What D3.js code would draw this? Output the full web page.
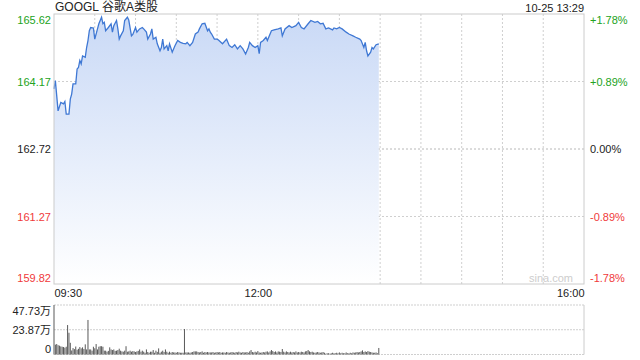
<!DOCTYPE html>
<html>
<head>
<meta charset="utf-8">
<script src="https://cdn.jsdelivr.net/npm/d3@7"></script>
<style>
body{margin:0;background:#fff}
svg text{font-family:"Liberation Sans",Arial,"Noto Sans CJK SC",sans-serif;font-size:11px}
</style>
</head>
<body>
<script>
// header
var title = "GOOGL 谷歌A类股"
var stamp = "10-25 13:29"
var prevClose = 162.72

// axis ticks
var priceTicks = [159.82, 161.27, 162.72, 164.17, 165.62]
var pctTicks = ["-1.78%", "-0.89%", "0.00%", "+0.89%", "+1.78%"]
var timeTicks = [0, 150, 390]
var timeLabels = ["09:30", "12:00", "16:00"]
var volTicks = [0, 23.87, 47.73]
var volLabels = ["0", "23.87万", "47.73万"]

// minutes after 09:30 and price
var priceMinutes = [0,1,3,5,7,8,9,11,12,13,
  14,16,17,18,19,20,21,23,24,25,
  26,27,29,30,32,33,35,36,37,38,
  40,42,43,44,46,47,48,49,51,52,
  54,55,57,58,60,61,63,65,66,68,
  69,71,72,73,75,76,78,79,80,81,
  83,84,85,87,89,91,93,95,97,98,
  100,102,104,106,107,109,111,113,114,115,
  116,118,120,121,124,127,129,131,133,135,
  137,139,141,143,144,146,148,150,151,152,
  154,156,157,160,162,165,167,168,170,173,
  175,178,180,182,184,187,189,192,194,196,
  198,200,202,205,206,208,210,212,215,217,
  220,222,225,226,228,229,230,231,233,234,
  235,237,239]
var prices = [164.01,164.19,163.54,163.72,163.69,163.74,163.47,163.47,163.79,163.90,
  164.12,164.12,164.44,164.47,164.62,164.55,164.72,164.69,164.90,165.05,
  165.26,165.33,165.32,165.08,165.30,165.41,165.55,165.41,165.44,165.26,
  165.33,165.41,165.23,165.37,165.48,165.30,165.08,165.15,165.26,165.48,
  165.55,165.49,165.15,165.18,165.33,165.23,165.30,165.33,165.30,165.23,
  165.08,165.19,165.30,165.08,165.12,164.98,164.83,164.90,165.08,164.87,
  164.94,164.83,164.98,164.80,164.94,165.05,165.01,164.99,164.98,165.01,
  164.94,165.01,165.19,165.23,165.30,165.41,165.42,165.26,165.30,165.23,
  165.19,165.08,165.08,165.06,164.98,165.08,164.94,164.90,164.96,164.87,
  164.94,164.87,164.76,164.90,165.01,164.94,164.90,164.94,164.77,165.01,
  165.05,165.12,165.05,165.26,165.28,165.30,165.32,165.15,165.30,165.37,
  165.33,165.37,165.44,165.33,165.30,165.41,165.48,165.44,165.46,165.41,
  165.42,165.30,165.32,165.28,165.32,165.30,165.33,165.30,165.23,165.19,
  165.15,165.12,165.08,165.05,164.90,165.01,164.83,164.72,164.80,164.90,
  164.87,164.96,164.98]

// volume per minute, in 万 shares
var volumes = [47.73,9.5,10.1,9.0,8.5,7.8,7.5,7.2,6.6,7.5,
  28.4,21.0,11.3,3.9,6.2,5.2,7.7,4.6,5.5,7.2,
  5.9,6.9,5.3,9.8,4.9,33.3,4.9,4.9,3.7,7.5,
  6.0,10.1,4.9,7.5,8.0,8.0,7.5,3.7,3.7,2.7,
  3.5,6.9,4.9,4.3,4.9,3.5,3.7,4.3,5.6,3.7,
  3.0,2.7,3.7,8.0,2.7,3.0,3.7,2.7,3.3,3.0,
  2.4,3.0,3.5,4.9,2.7,3.7,2.7,1.7,4.9,2.4,
  1.7,2.7,2.7,4.3,1.7,3.7,2.5,5.9,1.7,2.7,
  3.7,2.4,4.9,2.7,1.7,2.7,1.7,2.4,2.0,2.0,
  1.7,2.4,2.0,1.7,1.7,1.7,24.6,2.0,2.0,2.0,
  1.7,2.0,2.4,3.0,3.0,3.0,2.4,2.0,2.4,3.0,
  1.7,2.4,2.0,2.4,2.0,2.0,2.0,2.4,1.7,2.0,
  2.4,2.0,2.4,1.7,2.0,2.0,1.7,2.4,2.0,1.7,
  2.0,2.4,2.0,1.7,2.4,2.0,2.7,2.0,1.7,2.4,
  2.0,2.0,2.4,1.7,3.0,4.3,2.4,2.0,2.7,2.0,
  3.3,2.0,1.7,2.0,2.4,2.0,2.7,3.0,2.0,3.0,
  4.3,3.3,2.4,3.0,2.0,3.0,2.7,2.4,5.3,2.7,
  2.0,3.0,2.4,2.0,2.7,2.0,2.4,2.0,3.0,2.0,
  2.4,2.0,2.7,2.4,2.0,3.0,3.3,4.3,3.0,2.4,
  2.7,2.0,1.7,2.0,2.4,2.0,1.7,2.0,2.4,1.7,
  0.8,1.2,1.2,0.8,1.2,1.7,1.2,1.2,1.7,1.2,
  2.0,1.2,1.7,1.2,1.2,2.0,1.2,1.2,1.7,1.2,
  2.0,1.7,2.0,2.4,2.0,2.4,3.0,4.0,2.4,3.0,
  2.4,3.3,2.7,2.4,2.0,1.7,1.7,2.0,1.2,6.3]

var width = 640, height = 360
var plotLeft = 54, plotRight = 584
var plotTop = 14, plotBottom = 284
var volTop = 305, volBottom = 354.5

var green = "#22a322", red = "#f03a3a", dark = "#222"
function tickColor(d) { return d > prevClose ? green : (d < prevClose ? red : dark) }

var svg = d3.select("body").append("svg")
  .attr("width", width).attr("height", height)

var x = d3.scaleLinear().domain([0, 390]).range([plotLeft, plotRight])
var y = d3.scaleLinear().domain([priceTicks[0], priceTicks[4]]).range([plotBottom, plotTop])
var yv = d3.scaleLinear().domain([0, volTicks[2]]).range([volBottom, volTop])

var grad = svg.append("defs").append("linearGradient")
  .attr("id", "fillgrad").attr("gradientUnits", "userSpaceOnUse")
  .attr("x1", 0).attr("x2", 0).attr("y1", plotTop).attr("y2", plotBottom)
grad.append("stop").attr("offset", 0).attr("stop-color", "#c9d9f6")
grad.append("stop").attr("offset", 1).attr("stop-color", "#ffffff")

// grid
svg.append("g").selectAll("line").data(d3.range(30, 390, 30))
  .enter().append("line")
  .attr("x1", function(d) { return x(d) }).attr("x2", function(d) { return x(d) })
  .attr("y1", plotTop).attr("y2", plotBottom)
  .style("stroke", "#cfcfcf").style("stroke-dasharray", "2,2")
svg.append("g").selectAll("line").data(priceTicks.slice(1, 4))
  .enter().append("line")
  .attr("x1", plotLeft).attr("x2", plotRight)
  .attr("y1", function(d) { return y(d) }).attr("y2", function(d) { return y(d) })
  .style("stroke", function(d) { return d == prevClose ? "#b8b8b8" : "#cfcfcf" })
  .style("stroke-dasharray", "2,2")

// price area + line
var pts = priceMinutes.map(function(m, i) { return {m: m, p: prices[i]} })
var area = d3.area().x(function(d) { return x(d.m) }).y0(plotBottom).y1(function(d) { return y(d.p) })
var line = d3.line().x(function(d) { return x(d.m) }).y(function(d) { return y(d.p) })
svg.append("path").datum(pts).attr("d", area).style("fill", "url(#fillgrad)")
svg.append("path").datum(pts).attr("d", line)
  .style("fill", "none").style("stroke", "#3f78d4").style("stroke-width", 1.3)

// frame
svg.append("rect").attr("x", plotLeft).attr("y", plotTop)
  .attr("width", plotRight - plotLeft).attr("height", plotBottom - plotTop)
  .style("fill", "none").style("stroke", "#cccccc")

svg.append("text").text("sina.com").attr("x", plotRight - 11).attr("y", plotBottom - 2)
  .attr("text-anchor", "end").style("fill", "#cdcdcd").style("font-size", "11px")

// price axes
var yl = svg.append("g").attr("transform", "translate(" + plotLeft + ",0)")
  .call(d3.axisLeft(y).tickValues(priceTicks).tickSize(0).tickPadding(3).tickFormat(d3.format(".2f")))
var yr = svg.append("g").attr("transform", "translate(" + plotRight + ",0)")
  .call(d3.axisRight(y).tickValues(priceTicks).tickSize(0).tickPadding(6)
    .tickFormat(function(d, i) { return pctTicks[i] }))
;[yl, yr].forEach(function(g) {
  g.select(".domain").remove()
  g.selectAll("text")
    .style("fill", tickColor).style("font-size", "11px").attr("font-family", null)
    .attr("transform", function(d, i) { return i == 0 ? "translate(0,-6)" : (i == 4 ? "translate(0,6)" : null) })
})

// time axis
var xa = svg.append("g").attr("transform", "translate(0," + plotBottom + ")")
  .call(d3.axisBottom(x).tickValues(timeTicks).tickSize(0).tickPadding(5)
    .tickFormat(function(d, i) { return timeLabels[i] }))
xa.select(".domain").remove()
xa.selectAll("text").style("fill", dark).style("font-size", "11px").attr("font-family", null)
  .attr("text-anchor", function(d, i) { return i == 0 ? "start" : (i == 2 ? "end" : "middle") })

// volume panel
svg.append("g").selectAll("line").data(volTicks)
  .enter().append("line")
  .attr("x1", plotLeft).attr("x2", plotRight)
  .attr("y1", function(d) { return yv(d) }).attr("y2", function(d) { return yv(d) })
  .style("stroke", "#cfcfcf").style("stroke-dasharray", "2,1")
svg.append("line").attr("x1", plotRight).attr("x2", plotRight).attr("y1", volTop).attr("y2", volBottom)
  .style("stroke", "#cccccc")

svg.append("g").selectAll("rect").data(volumes)
  .enter().append("rect")
  .attr("x", function(d, i) { return x(i) - 0.5 })
  .attr("width", 1)
  .attr("y", function(d) { return yv(d) })
  .attr("height", function(d) { return volBottom - yv(d) })
  .style("fill", "#5a5a5a")

var va = svg.append("g").attr("transform", "translate(" + plotLeft + ",0)")
  .call(d3.axisLeft(yv).tickValues(volTicks).tickSize(0).tickPadding(3)
    .tickFormat(function(d, i) { return volLabels[i] }))
va.select(".domain").remove()
va.selectAll("text").style("fill", dark).style("font-size", "11px").attr("font-family", null)
  .attr("transform", function(d, i) { return i == 0 ? "translate(0,-6)" : (i == 2 ? "translate(0,6)" : null) })

// header text
svg.append("text").text(title).attr("x", plotLeft + 1).attr("y", 11)
  .style("fill", dark).style("font-size", "12px")
svg.append("text").text(stamp).attr("x", plotRight).attr("y", 12)
  .attr("text-anchor", "end").style("fill", dark).style("font-size", "11px")
</script>
</body>
</html>
